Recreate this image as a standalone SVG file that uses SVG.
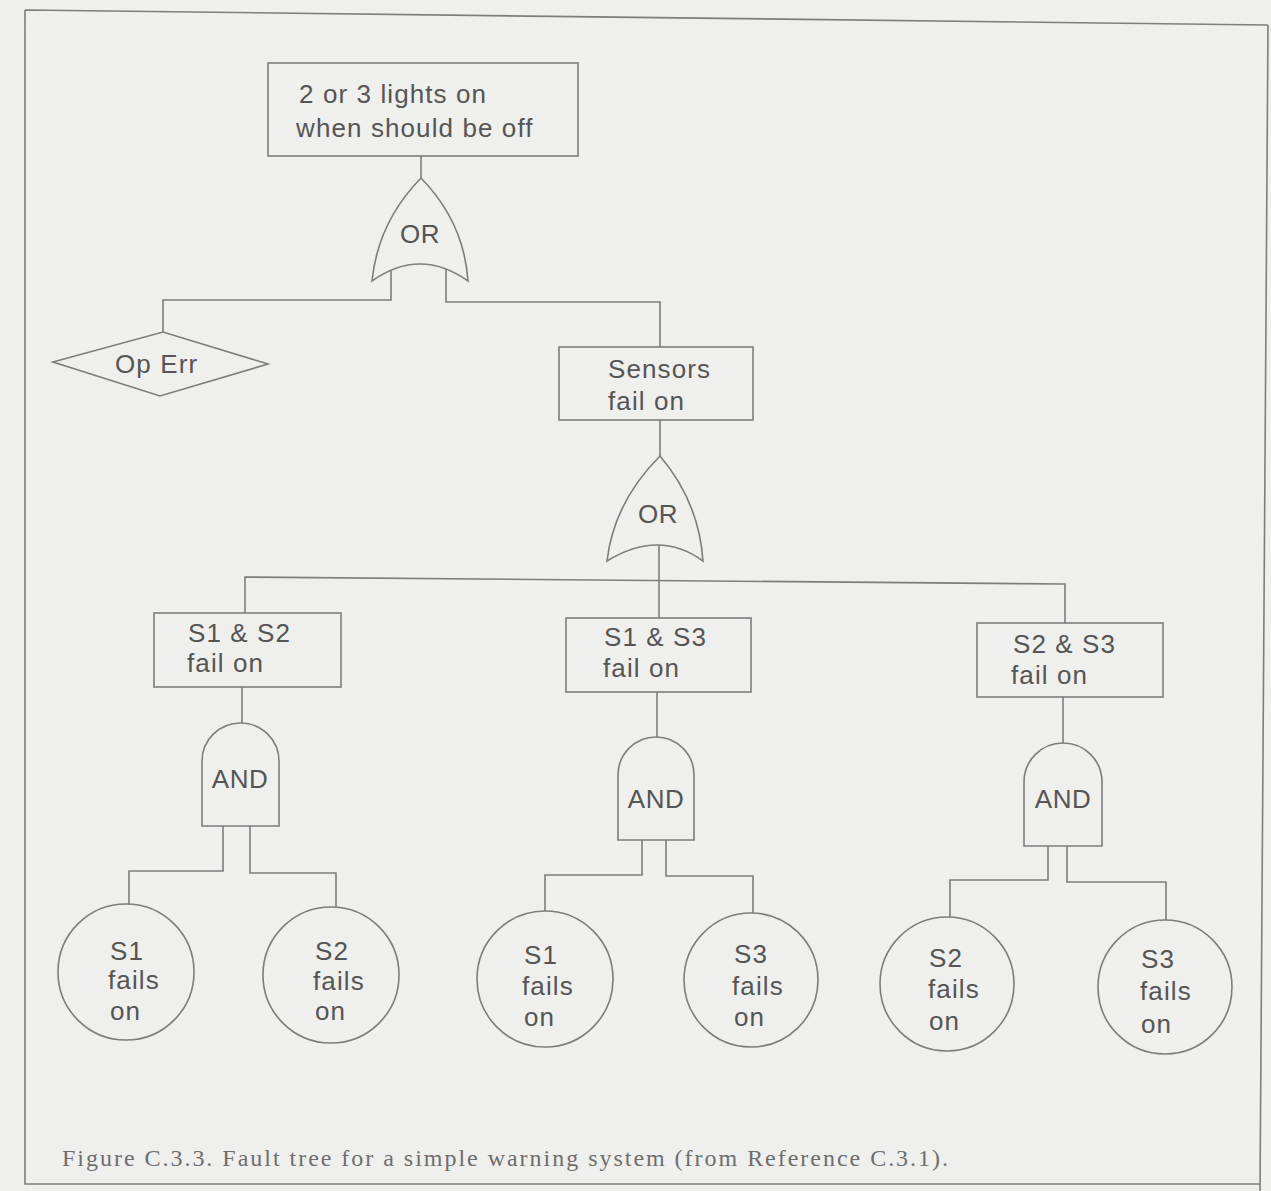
<svg xmlns="http://www.w3.org/2000/svg" width="1271" height="1191" viewBox="0 0 1271 1191">
<style>
.ln{fill:none;stroke:#7d7d7d;stroke-width:1.6}
.sh{fill:#efefed;stroke:#7d7d7d;stroke-width:1.6}
.t{font-family:"Liberation Sans",Arial,sans-serif;font-size:26px;fill:#555;letter-spacing:1.1px}
.g{font-family:"Liberation Sans",Arial,sans-serif;font-size:26px;fill:#555;text-anchor:middle;letter-spacing:0.5px}
.cap{font-family:"Liberation Serif","Times New Roman",serif;font-size:24px;fill:#6e6e6e}
</style>
<rect x="0" y="0" width="1271" height="1191" fill="#efefed"/>
<g id="frame">
<path class="ln" d="M25,10 L1268,25 M25,10 L25,1184 L1260,1184 M1268,25 L1260,1191" stroke-width="1.3"/>
</g>
<g id="connectors">
<path class="ln" d="M421,156 L421,178"/>
<path class="ln" d="M391,268 L391,300 L163,300 L163,332"/>
<path class="ln" d="M446,268 L446,302 L660,302 L660,347"/>
<path class="ln" d="M660,420 L660,456"/>
<path class="ln" d="M659,540 L659,618"/>
<path class="ln" d="M245,613 L245,577 L1065,584 L1065,623"/>
<path class="ln" d="M242,687 L242,723"/>
<path class="ln" d="M657,692 L657,737"/>
<path class="ln" d="M1063,697 L1063,743"/>
<path class="ln" d="M223,826 L223,871 L129,871 L129,904"/>
<path class="ln" d="M250,826 L250,873 L336,873 L336,907"/>
<path class="ln" d="M642,840 L642,875 L545,875 L545,911"/>
<path class="ln" d="M666,840 L666,876 L753,876 L753,913"/>
<path class="ln" d="M1048,846 L1048,880 L950,880 L950,917"/>
<path class="ln" d="M1067,846 L1067,882 L1166,882 L1166,920"/>
</g>
<g id="top-event">
<rect class="sh" x="268" y="63" width="310" height="93"/>
<text class="t" x="299" y="103">2 or 3 lights on</text>
<text class="t" x="296" y="137">when should be off</text>
</g>
<g id="or-gate-1">
<path class="sh" d="M421,178 Q378,222 372,281 Q420,247 468,281 Q464,222 421,178 Z"/>
<text class="g" x="420" y="243">OR</text>
</g>
<g id="op-err">
<polygon class="sh" points="53,362 163,332 268,364 160,396"/>
<text class="t" x="115" y="373">Op Err</text>
</g>
<g id="sensors-fail-on">
<rect class="sh" x="559" y="347" width="194" height="73"/>
<text class="t" x="608" y="378">Sensors</text>
<text class="t" x="608" y="410">fail on</text>
</g>
<g id="or-gate-2">
<path class="sh" d="M660,456 Q614,502 607,561 Q659,529 703,561 Q699,502 660,456 Z"/>
<text class="g" x="658" y="523">OR</text>
</g>
<g id="s1-s2-fail-on">
<rect class="sh" x="154" y="613" width="187" height="74"/>
<text class="t" x="188" y="642">S1 &amp; S2</text>
<text class="t" x="187" y="672">fail on</text>
</g>
<g id="s1-s3-fail-on">
<rect class="sh" x="566" y="618" width="185" height="74"/>
<text class="t" x="604" y="646">S1 &amp; S3</text>
<text class="t" x="603" y="677">fail on</text>
</g>
<g id="s2-s3-fail-on">
<rect class="sh" x="977" y="623" width="186" height="74"/>
<text class="t" x="1013" y="653">S2 &amp; S3</text>
<text class="t" x="1011" y="684">fail on</text>
</g>
<g id="and-gate-1">
<path class="sh" d="M202,826 L202,761 A38.5,38 0 0 1 279,761 L279,826 Z"/>
<text class="g" x="240" y="788">AND</text>
</g>
<g id="and-gate-2">
<path class="sh" d="M618,840 L618,775 A38,38 0 0 1 694,775 L694,840 Z"/>
<text class="g" x="656" y="808">AND</text>
</g>
<g id="and-gate-3">
<path class="sh" d="M1024,846 L1024,782 A39,39 0 0 1 1102,782 L1102,846 Z"/>
<text class="g" x="1063" y="808">AND</text>
</g>
<g id="s1-fails-on-a">
<circle class="sh" cx="126" cy="972" r="68"/>
<text class="t" x="110" y="960">S1</text>
<text class="t" x="108" y="989">fails</text>
<text class="t" x="110" y="1020">on</text>
</g>
<g id="s2-fails-on-a">
<circle class="sh" cx="331" cy="975" r="68"/>
<text class="t" x="315" y="960">S2</text>
<text class="t" x="313" y="990">fails</text>
<text class="t" x="315" y="1020">on</text>
</g>
<g id="s1-fails-on-b">
<circle class="sh" cx="545" cy="979" r="68"/>
<text class="t" x="524" y="964">S1</text>
<text class="t" x="522" y="995">fails</text>
<text class="t" x="524" y="1026">on</text>
</g>
<g id="s3-fails-on-a">
<circle class="sh" cx="751" cy="980" r="67"/>
<text class="t" x="734" y="963">S3</text>
<text class="t" x="732" y="995">fails</text>
<text class="t" x="734" y="1026">on</text>
</g>
<g id="s2-fails-on-b">
<circle class="sh" cx="947" cy="984" r="67"/>
<text class="t" x="929" y="967">S2</text>
<text class="t" x="928" y="998">fails</text>
<text class="t" x="929" y="1030">on</text>
</g>
<g id="s3-fails-on-b">
<circle class="sh" cx="1165" cy="987" r="67"/>
<text class="t" x="1141" y="968">S3</text>
<text class="t" x="1140" y="1000">fails</text>
<text class="t" x="1141" y="1033">on</text>
</g>
<g id="caption">
<text class="cap" x="62" y="1166" textLength="886" lengthAdjust="spacing">Figure C.3.3. Fault tree for a simple warning system (from Reference  C.3.1).</text>
</g>
</svg>
